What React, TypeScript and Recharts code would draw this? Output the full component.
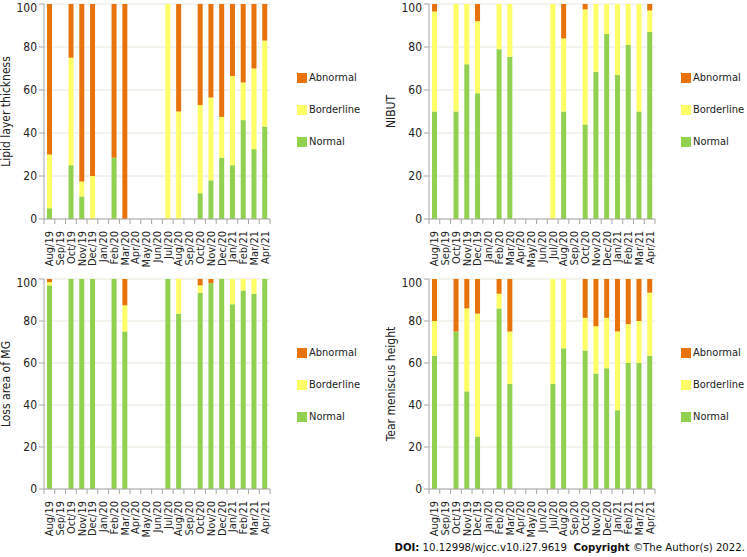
import React from "react";
import { BarChart, Bar, XAxis, YAxis, CartesianGrid } from "recharts";

const months = [
  "Aug/19", "Sep/19", "Oct/19", "Nov/19", "Dec/19", "Jan/20", "Feb/20",
  "Mar/20", "Apr/20", "May/20", "Jun/20", "Jul/20", "Aug/20", "Sep/20",
  "Oct/20", "Nov/20", "Dec/20", "Jan/21", "Feb/21", "Mar/21", "Apr/21",
];
const yTicks = [0, 20, 40, 60, 80, 100];

// Lipid layer thickness (%)
const lipidNormal = [5, 0, 25, 10.5, 0, 0, 28.5, 0, 0, 0, 0, 0, 0, 0, 12, 18, 28.5, 25, 46, 32.5, 43];
const lipidBorderline = [25, 0, 50, 7, 20, 0, 0, 0, 0, 0, 0, 100, 50, 0, 41, 38.5, 19, 41.5, 17.5, 37.5, 40];
const lipidAbnormal = [70, 0, 25, 82.5, 80, 0, 71.5, 100, 0, 0, 0, 0, 50, 0, 47, 43.5, 52.5, 33.5, 36.5, 30, 17];

// NIBUT (%)
const nibutNormal = [50, 0, 50, 72, 58.5, 0, 79, 75.5, 0, 0, 0, 0, 50, 0, 44, 68.5, 86, 67, 81, 50, 87];
const nibutBorderline = [46.5, 0, 50, 28, 33.5, 0, 21, 24.5, 0, 0, 0, 100, 34, 0, 53.5, 31.5, 14, 33, 19, 50, 10];
const nibutAbnormal = [3.5, 0, 0, 0, 8, 0, 0, 0, 0, 0, 0, 0, 16, 0, 2.5, 0, 0, 0, 0, 0, 3];

// Loss area of MG (%)
const mgNormal = [97, 0, 100, 100, 100, 0, 100, 75, 0, 0, 0, 100, 83.5, 0, 93.5, 98, 100, 88, 94.5, 93, 100];
const mgBorderline = [1.5, 0, 0, 0, 0, 0, 0, 12.5, 0, 0, 0, 0, 16.5, 0, 3.5, 0, 0, 12, 5.5, 7, 0];
const mgAbnormal = [1.5, 0, 0, 0, 0, 0, 0, 12.5, 0, 0, 0, 0, 0, 0, 3, 2, 0, 0, 0, 0, 0];

// Tear meniscus height (%)
const tearNormal = [63.5, 0, 75, 46.5, 25, 0, 86, 50, 0, 0, 0, 50, 67, 0, 66, 55, 57.5, 37.5, 60, 60, 63.5];
const tearBorderline = [16.5, 0, 0, 39.5, 58.5, 0, 7, 25, 0, 0, 0, 50, 33, 0, 15.5, 22.5, 24, 37.5, 18.5, 20, 30];
const tearAbnormal = [20, 0, 25, 14, 16.5, 0, 7, 25, 0, 0, 0, 0, 0, 0, 18.5, 22.5, 18.5, 25, 21.5, 20, 6.5];

const FONT = "'DejaVu Sans Condensed', 'DejaVu Sans', sans-serif";
const GREEN = "#92D050";
const YELLOW = "#FFFF66";
const ORANGE = "#E8720C";
const AXIS = "#a6a6a6";

const CHART_W = 280;
const Y_W = 44;
const RIGHT_M = 10;
const BAND = (CHART_W - Y_W - RIGHT_M) / months.length;

function build(normal: number[], borderline: number[], abnormal: number[]) {
  return months.map((m, i) => ({
    month: m,
    normal: normal[i],
    borderline: borderline[i],
    abnormal: abnormal[i],
  }));
}

const MonthTick = (props: any) => {
  const { x, y, payload, index } = props;
  const half = BAND / 2;
  const ty = y + 4;
  return (
    <g>
      {index === 0 && (
        <line x1={x - half} x2={x - half} y1={y - 8} y2={y - 3} stroke={AXIS} />
      )}
      <line x1={x + half} x2={x + half} y1={y - 8} y2={y - 3} stroke={AXIS} />
      <text
        x={x}
        y={ty}
        dy="0.36em"
        transform={`rotate(-90 ${x} ${ty})`}
        textAnchor="end"
        fontSize={11}
        fontFamily={FONT}
        fill="#222"
      >
        {payload.value}
      </text>
    </g>
  );
};

function Panel(props: {
  left: number;
  top: number;
  height: number;
  title: string;
  data: any[];
  legendX: number;
}) {
  const { left, top, height, title, data, legendX } = props;
  const legend = [
    { name: "Abnormal", color: ORANGE, cy: 78 },
    { name: "Borderline", color: YELLOW, cy: 110 },
    { name: "Normal", color: GREEN, cy: 142 },
  ];
  return (
    <div style={{ position: "absolute", left, top, width: 362, height }}>
      <BarChart
        width={CHART_W}
        height={height}
        data={data}
        margin={{ top: 4, right: RIGHT_M, left: 0, bottom: 0 }}
        barSize={5}
      >
        <CartesianGrid vertical={false} stroke="#e8e8de" />
        <XAxis
          dataKey="month"
          interval={0}
          height={51}
          tickLine={false}
          axisLine={{ stroke: AXIS }}
          tick={<MonthTick />}
        />
        <YAxis
          width={Y_W}
          domain={[0, 100]}
          ticks={yTicks}
          tickSize={5}
          tickLine={{ stroke: AXIS }}
          axisLine={{ stroke: AXIS }}
          tick={{ fontSize: 12, fontFamily: FONT, fill: "#222" }}
          label={{
            value: title,
            angle: -90,
            position: "insideLeft",
            offset: 6,
            style: { textAnchor: "middle", fontSize: 12, fontFamily: FONT, fill: "#222" },
          }}
        />
        <Bar dataKey="normal" stackId="s" fill={GREEN} isAnimationActive={false} />
        <Bar dataKey="borderline" stackId="s" fill={YELLOW} isAnimationActive={false} />
        <Bar dataKey="abnormal" stackId="s" fill={ORANGE} isAnimationActive={false} />
      </BarChart>
      {legend.map((l) => (
        <div key={l.name}>
          <div
            style={{
              position: "absolute",
              left: legendX,
              top: l.cy - 5,
              width: 10,
              height: 10,
              background: l.color,
            }}
          />
          <div
            style={{
              position: "absolute",
              left: legendX + 12,
              top: l.cy - 8,
              fontSize: 11,
              lineHeight: "16px",
              fontFamily: FONT,
              color: "#222",
              whiteSpace: "nowrap",
            }}
          >
            {l.name}
          </div>
        </div>
      ))}
    </div>
  );
}

export default function App() {
  return (
    <div
      style={{
        position: "absolute",
        left: 0,
        top: 0,
        width: 747,
        height: 557,
        background: "#fff",
        overflow: "hidden",
      }}
    >
      <Panel left={0} top={0} height={270} title="Lipid layer thickness" legendX={297}
        data={build(lipidNormal, lipidBorderline, lipidAbnormal)} />
      <Panel left={385} top={0} height={270} title="NIBUT" legendX={296}
        data={build(nibutNormal, nibutBorderline, nibutAbnormal)} />
      <Panel left={0} top={275} height={265} title="Loss area of MG" legendX={297}
        data={build(mgNormal, mgBorderline, mgAbnormal)} />
      <Panel left={385} top={275} height={265} title="Tear meniscus height" legendX={296}
        data={build(tearNormal, tearBorderline, tearAbnormal)} />
      <div
        style={{
          position: "absolute",
          right: 2,
          top: 540,
          fontSize: 11.3,
          lineHeight: "16px",
          fontFamily: FONT,
          color: "#111",
          whiteSpace: "nowrap",
        }}
      >
        <b>DOI:</b> 10.12998/wjcc.v10.i27.9619&nbsp;&nbsp;<b>Copyright</b> ©The Author(s) 2022.
      </div>
    </div>
  );
}
